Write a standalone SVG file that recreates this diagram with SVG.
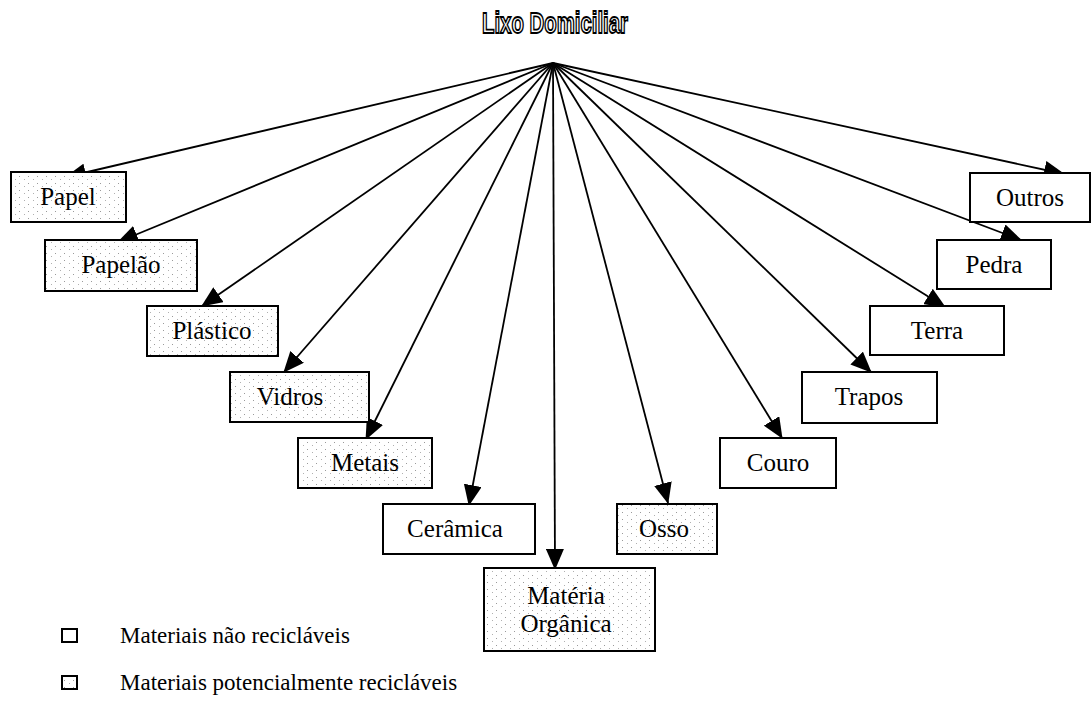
<svg xmlns="http://www.w3.org/2000/svg" width="1092" height="704" viewBox="0 0 1092 704">
  <defs>
    <!-- stippled fill for potentially recyclable materials -->
    <pattern id="stipple" width="9" height="7" patternUnits="userSpaceOnUse">
      <rect width="9" height="7" fill="#ffffff"/>
      <rect x="1" y="1" width="1" height="1" fill="#9a9a9a"/>
      <rect x="6" y="4" width="1" height="1" fill="#b0b0b0"/>
    </pattern>
    <marker id="head" markerUnits="userSpaceOnUse" markerWidth="22" markerHeight="18" refX="20" refY="9" orient="auto">
      <path d="M0,0 L21,9 L0,18 Z" fill="#000"/>
    </marker>
    <style>
      .box { stroke: #000; stroke-width: 2; }
      .rec { fill: url(#stipple); }
      .non { fill: #fff; }
      .lbl { font-family: "Liberation Serif", "Times New Roman", serif; font-size: 25px; fill: #000; text-anchor: middle; }
      .leg { font-family: "Liberation Serif", "Times New Roman", serif; font-size: 23px; fill: #000; }
      .edge { stroke: #000; stroke-width: 1.8; fill: none; marker-end: url(#head); }
    </style>
  </defs>
  <rect width="1092" height="704" fill="#fff"/>

  <!-- title -->
  <g id="title">
    <text x="555" y="33" font-family="'Liberation Sans', Arial, sans-serif" font-weight="bold" font-size="30" text-anchor="middle" textLength="146" lengthAdjust="spacingAndGlyphs" fill="#fff" stroke="#000" stroke-width="1.8">Lixo Domiciliar</text>
  </g>

  <!-- connectors from the root -->
  <g id="connectors">
    <line class="edge" x1="553" y1="63" x2="66" y2="177"/>
    <line class="edge" x1="553" y1="63" x2="118" y2="242"/>
    <line class="edge" x1="553" y1="63" x2="202" y2="306"/>
    <line class="edge" x1="553" y1="63" x2="284" y2="372"/>
    <line class="edge" x1="553" y1="63" x2="366" y2="439"/>
    <line class="edge" x1="553" y1="63" x2="469" y2="505"/>
    <line class="edge" x1="553" y1="63" x2="555" y2="569"/>
    <line class="edge" x1="553" y1="63" x2="668" y2="503"/>
    <line class="edge" x1="553" y1="63" x2="782" y2="438"/>
    <line class="edge" x1="553" y1="63" x2="871" y2="372"/>
    <line class="edge" x1="553" y1="63" x2="945" y2="307"/>
    <line class="edge" x1="553" y1="63" x2="1021" y2="240"/>
    <line class="edge" x1="553" y1="63" x2="1064" y2="174"/>
  </g>

  <!-- nodes -->
  <g id="papel"><rect class="box rec" x="11" y="172" width="115" height="50"/><text class="lbl" x="68" y="205">Papel</text></g>
  <g id="papelao"><rect class="box rec" x="45" y="240" width="152" height="51"/><text class="lbl" x="121" y="273">Papelão</text></g>
  <g id="plastico"><rect class="box rec" x="147" y="306" width="131" height="50"/><text class="lbl" x="212" y="339">Plástico</text></g>
  <g id="vidros"><rect class="box rec" x="230" y="372" width="139" height="50"/><text class="lbl" x="290" y="405">Vidros</text></g>
  <g id="metais"><rect class="box rec" x="298" y="438" width="134" height="50"/><text class="lbl" x="365" y="471">Metais</text></g>
  <g id="ceramica"><rect class="box non" x="383" y="504" width="152" height="50"/><text class="lbl" x="455" y="537">Cerâmica</text></g>
  <g id="materia-organica"><rect class="box rec" x="484" y="568" width="171" height="83"/><text class="lbl" x="566" y="604">Matéria</text><text class="lbl" x="566" y="632">Orgânica</text></g>
  <g id="osso"><rect class="box rec" x="617" y="504" width="100" height="50"/><text class="lbl" x="664" y="537">Osso</text></g>
  <g id="couro"><rect class="box non" x="720" y="438" width="116" height="50"/><text class="lbl" x="778" y="471">Couro</text></g>
  <g id="trapos"><rect class="box non" x="802" y="372" width="135" height="51"/><text class="lbl" x="869" y="405">Trapos</text></g>
  <g id="terra"><rect class="box non" x="870" y="306" width="134" height="49"/><text class="lbl" x="937" y="339">Terra</text></g>
  <g id="pedra"><rect class="box non" x="937" y="240" width="114" height="49"/><text class="lbl" x="994" y="273">Pedra</text></g>
  <g id="outros"><rect class="box non" x="970" y="173" width="120" height="49"/><text class="lbl" x="1030" y="206">Outros</text></g>

  <!-- legend -->
  <g id="legend">
    <rect class="box non" x="62" y="629" width="15" height="13" stroke-width="1.6"/>
    <text class="leg" x="120" y="643">Materiais não recicláveis</text>
    <rect class="box rec" x="62" y="676" width="15" height="13" stroke-width="1.6"/>
    <text class="leg" x="120" y="690">Materiais potencialmente recicláveis</text>
  </g>
</svg>
